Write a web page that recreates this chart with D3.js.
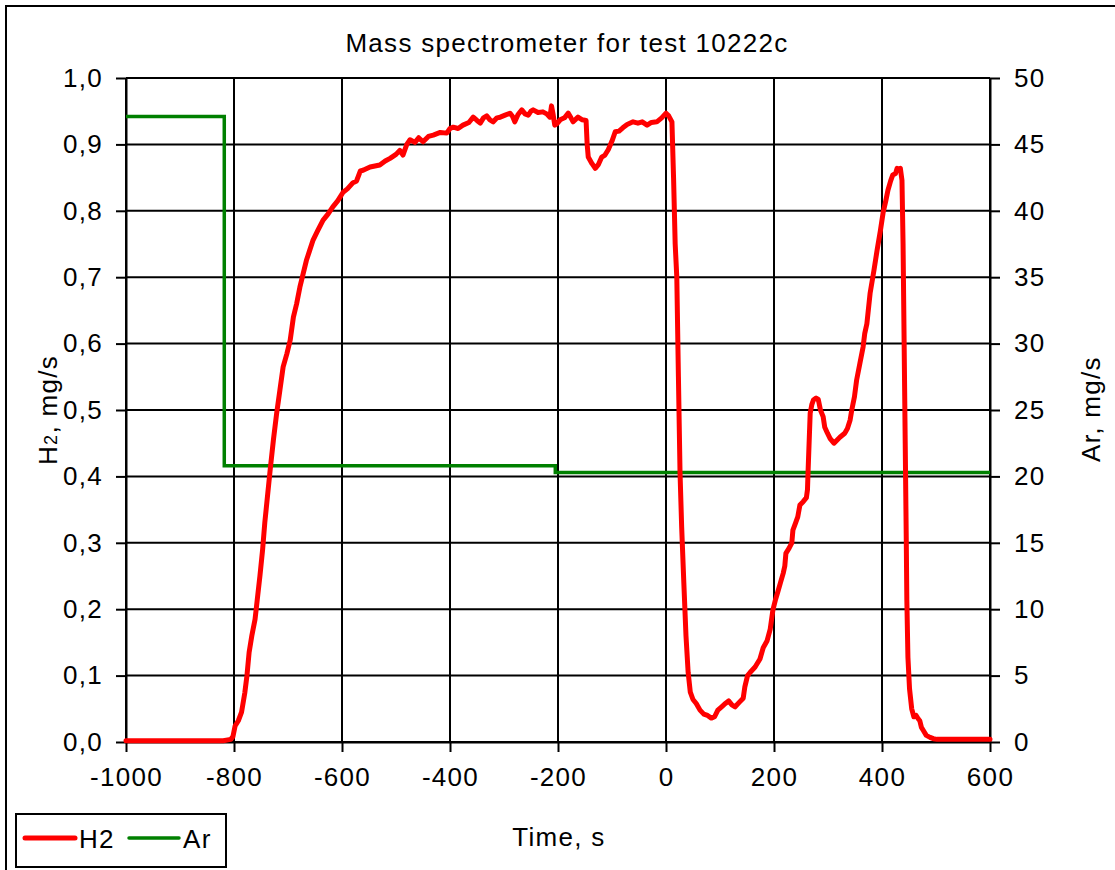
<!DOCTYPE html>
<html>
<head>
<meta charset="utf-8">
<script src="https://cdn.jsdelivr.net/npm/d3@7"></script>
<style>
  html, body { margin: 0; padding: 0; background: #fff; }
  svg { display: block; font-family: "Liberation Sans", Arial, sans-serif; }
  svg text { letter-spacing: 1.3px; }
</style>
</head>
<body>
<svg id="chart" width="1115" height="870"></svg>
<script>
// Hydrogen mass flow (mg/s), time in seconds
const h2Time = [-1000, -820, -806, -802, -798, -792, -786, -780, -776, -772, -767, -761, -757, -752, -747, -743, -738, -733, -727, -721, -715, -709, -702, -696, -690, -684, -678, -672, -666, -660, -654, -645, -635, -626, -617, -608, -598, -590, -580, -573, -566, -561, -548, -530, -520, -511, -500, -493, -487, -480, -474, -465, -458, -450, -440, -431, -418, -406, -400, -394, -385, -376, -365, -357, -350, -344, -338, -332, -326, -320, -313, -307, -298, -289, -284, -280, -274, -267, -261, -255, -250, -246, -237, -228, -221, -215, -212, -209, -206, -201, -196, -188, -181, -176, -172, -167, -163, -155, -148, -146, -144, -137, -131, -125, -119, -113, -107, -100, -94, -87, -80, -72, -61, -52, -44, -35, -27, -17, -8, 0, 5, 11, 14, 17, 20, 23, 26, 29, 33, 37, 41, 45, 50, 56, 63, 70, 77, 84, 90, 96, 103, 110, 116, 122, 128, 136, 143, 146, 151, 156, 165, 174, 180, 187, 193, 198, 203, 207, 212, 217, 220, 222, 228, 233, 235, 240, 244, 248, 254, 260, 262, 263, 265, 267, 270, 273, 278, 282, 286, 291, 294, 299, 304, 311, 317, 322, 331, 336, 341, 344, 349, 353, 359, 365, 368, 372, 378, 385, 391, 397, 402, 407, 411, 416, 420, 425, 428, 431, 434, 437, 439, 441, 443, 445, 446, 448, 451, 455, 459, 463, 467, 470, 473, 476, 482, 489, 495, 502, 600];
const h2Value = [0.002, 0.002, 0.004, 0.008, 0.024, 0.032, 0.045, 0.074, 0.1, 0.135, 0.16, 0.185, 0.214, 0.25, 0.29, 0.33, 0.37, 0.41, 0.455, 0.495, 0.53, 0.565, 0.585, 0.605, 0.64, 0.66, 0.685, 0.705, 0.725, 0.74, 0.755, 0.77, 0.786, 0.795, 0.806, 0.815, 0.828, 0.833, 0.842, 0.845, 0.86, 0.861, 0.866, 0.869, 0.875, 0.879, 0.885, 0.891, 0.884, 0.9, 0.907, 0.903, 0.91, 0.904, 0.912, 0.914, 0.918, 0.917, 0.924, 0.926, 0.924, 0.929, 0.933, 0.941, 0.936, 0.932, 0.94, 0.943, 0.937, 0.934, 0.94, 0.941, 0.944, 0.947, 0.942, 0.934, 0.945, 0.952, 0.946, 0.944, 0.95, 0.952, 0.948, 0.949, 0.946, 0.941, 0.958, 0.945, 0.929, 0.932, 0.937, 0.94, 0.947, 0.94, 0.934, 0.938, 0.941, 0.937, 0.936, 0.9, 0.881, 0.871, 0.864, 0.87, 0.881, 0.884, 0.892, 0.905, 0.919, 0.92, 0.925, 0.93, 0.934, 0.932, 0.934, 0.929, 0.933, 0.934, 0.94, 0.947, 0.943, 0.934, 0.85, 0.75, 0.7, 0.55, 0.405, 0.324, 0.24, 0.16, 0.105, 0.075, 0.064, 0.058, 0.048, 0.042, 0.04, 0.036, 0.038, 0.048, 0.053, 0.058, 0.062, 0.056, 0.053, 0.06, 0.066, 0.083, 0.1, 0.105, 0.113, 0.125, 0.142, 0.152, 0.17, 0.199, 0.215, 0.226, 0.24, 0.254, 0.265, 0.284, 0.292, 0.3, 0.319, 0.33, 0.339, 0.357, 0.362, 0.368, 0.38, 0.405, 0.45, 0.495, 0.508, 0.515, 0.518, 0.516, 0.5, 0.49, 0.474, 0.465, 0.457, 0.45, 0.455, 0.459, 0.465, 0.472, 0.485, 0.5, 0.52, 0.545, 0.57, 0.595, 0.615, 0.63, 0.676, 0.71, 0.741, 0.77, 0.797, 0.815, 0.831, 0.845, 0.854, 0.856, 0.864, 0.862, 0.864, 0.846, 0.75, 0.6, 0.45, 0.3, 0.214, 0.128, 0.08, 0.05, 0.038, 0.04, 0.035, 0.032, 0.022, 0.018, 0.01, 0.007, 0.005, 0.004, 0.004];

// Argon mass flow (mg/s): each level holds until the next time
const arTime = [-1000, -818, -205, 600];
const arValue = [47.1, 20.8, 20.3, 20.3];

const xTicks = [-1000, -800, -600, -400, -200, 0, 200, 400, 600];
const yLeftTicks = [0, 0.1, 0.2, 0.3, 0.4, 0.5, 0.6, 0.7, 0.8, 0.9, 1.0];
const yRightTicks = [0, 5, 10, 15, 20, 25, 30, 35, 40, 45, 50];

const titleText = "Mass spectrometer for test 10222c";
const xTitle = "Time, s";
const legendNames = ["H2", "Ar"];
const colors = { h2: "#ff0000", ar: "#008000" };

const plot = { left: 126, top: 78, right: 990, bottom: 742 };
const FONT = 26;

const svg = d3.select("#chart");

// outer chart frame (extends past the window on the right and bottom)
svg.append("rect")
  .attr("x", 6).attr("y", 6).attr("width", 1200).attr("height", 1000)
  .attr("fill", "#fff").attr("stroke", "#000").attr("stroke-width", 2);

const x = d3.scaleLinear().domain([-1000, 600]).range([plot.left, plot.right]);
const yL = d3.scaleLinear().domain([0, 1]).range([plot.bottom, plot.top]);
const yR = d3.scaleLinear().domain([0, 50]).range([plot.bottom, plot.top]);

const fmtComma = d => d3.format(".1f")(d).replace(".", ",");

// gridlines
const grid = svg.append("g").attr("stroke", "#000").attr("stroke-width", 2);
grid.selectAll("line.h").data(yLeftTicks).join("line")
  .attr("x1", plot.left).attr("x2", plot.right)
  .attr("y1", d => yL(d)).attr("y2", d => yL(d));
grid.selectAll("line.v").data(xTicks).join("line")
  .attr("x1", d => x(d)).attr("x2", d => x(d))
  .attr("y1", plot.top).attr("y2", plot.bottom);

// axes
const styleAxis = g => {
  g.select(".domain").attr("stroke", "#000").attr("stroke-width", 2);
  g.selectAll(".tick line").attr("stroke", "#000").attr("stroke-width", 2);
  g.selectAll("text").attr("fill", "#000")
    .style("font-size", FONT + "px")
    .style("font-family", "'Liberation Sans', Arial, sans-serif");
};

svg.append("g")
  .attr("transform", `translate(0,${plot.bottom})`)
  .call(d3.axisBottom(x).tickValues(xTicks).tickSizeInner(10).tickSizeOuter(0).tickPadding(16).tickFormat(d3.format("d")))
  .call(styleAxis)
  .call(g => g.selectAll("text").text(d => String(d).replace("\u2212", "-")));

svg.append("g")
  .attr("transform", `translate(${plot.left},0)`)
  .call(d3.axisLeft(yL).tickValues(yLeftTicks).tickSizeInner(10).tickSizeOuter(0).tickPadding(13).tickFormat(fmtComma))
  .call(styleAxis);

svg.append("g")
  .attr("transform", `translate(${plot.right},0)`)
  .call(d3.axisRight(yR).tickValues(yRightTicks).tickSizeInner(10).tickSizeOuter(0).tickPadding(14).tickFormat(d3.format("d")))
  .call(styleAxis);

// plot frame top edge
svg.append("line")
  .attr("x1", plot.left).attr("x2", plot.right)
  .attr("y1", plot.top).attr("y2", plot.top)
  .attr("stroke", "#000").attr("stroke-width", 2);

// series
const arData = arTime.map((t, i) => ({ t, v: arValue[i] }));
const h2Data = h2Time.map((t, i) => ({ t, v: h2Value[i] }));

svg.append("path")
  .datum(arData)
  .attr("fill", "none").attr("stroke", colors.ar).attr("stroke-width", 3.5)
  .attr("d", d3.line().x(d => x(d.t)).y(d => yR(d.v)).curve(d3.curveStepAfter));

svg.append("path")
  .datum(h2Data)
  .attr("fill", "none").attr("stroke", colors.h2).attr("stroke-width", 5)
  .attr("stroke-linejoin", "round").attr("stroke-linecap", "round")
  .attr("d", d3.line().x(d => x(d.t)).y(d => yL(d.v)));

// titles
svg.append("text")
  .attr("x", 567).attr("y", 52).attr("text-anchor", "middle")
  .style("font-size", FONT + "px").text(titleText);

svg.append("text")
  .attr("x", 559).attr("y", 846).attr("text-anchor", "middle")
  .style("font-size", FONT + "px").text(xTitle);

const leftTitle = svg.append("text")
  .attr("transform", "translate(57,410) rotate(-90)")
  .attr("text-anchor", "middle")
  .style("font-size", FONT + "px");
leftTitle.append("tspan").text("H");
leftTitle.append("tspan").style("font-size", "18px").text("2");
leftTitle.append("tspan").text(", mg/s");

svg.append("text")
  .attr("transform", "translate(1100,409) rotate(-90)")
  .attr("text-anchor", "middle")
  .style("font-size", FONT + "px").text("Ar, mg/s");

// legend
const legend = svg.append("g");
legend.append("rect")
  .attr("x", 16).attr("y", 814).attr("width", 210).attr("height", 53)
  .attr("fill", "#fff").attr("stroke", "#000").attr("stroke-width", 2);
const legendItems = [
  { name: legendNames[0], color: colors.h2, w: 5, x0: 25 },
  { name: legendNames[1], color: colors.ar, w: 3.5, x0: 129 }
];
legendItems.forEach(it => {
  legend.append("line")
    .attr("x1", it.x0).attr("x2", it.x0 + 50).attr("y1", 838).attr("y2", 838)
    .attr("stroke", it.color).attr("stroke-width", it.w).attr("stroke-linecap", "round");
  legend.append("text")
    .attr("x", it.x0 + 54).attr("y", 848)
    .style("font-size", FONT + "px").text(it.name);
});
</script>
</body>
</html>
